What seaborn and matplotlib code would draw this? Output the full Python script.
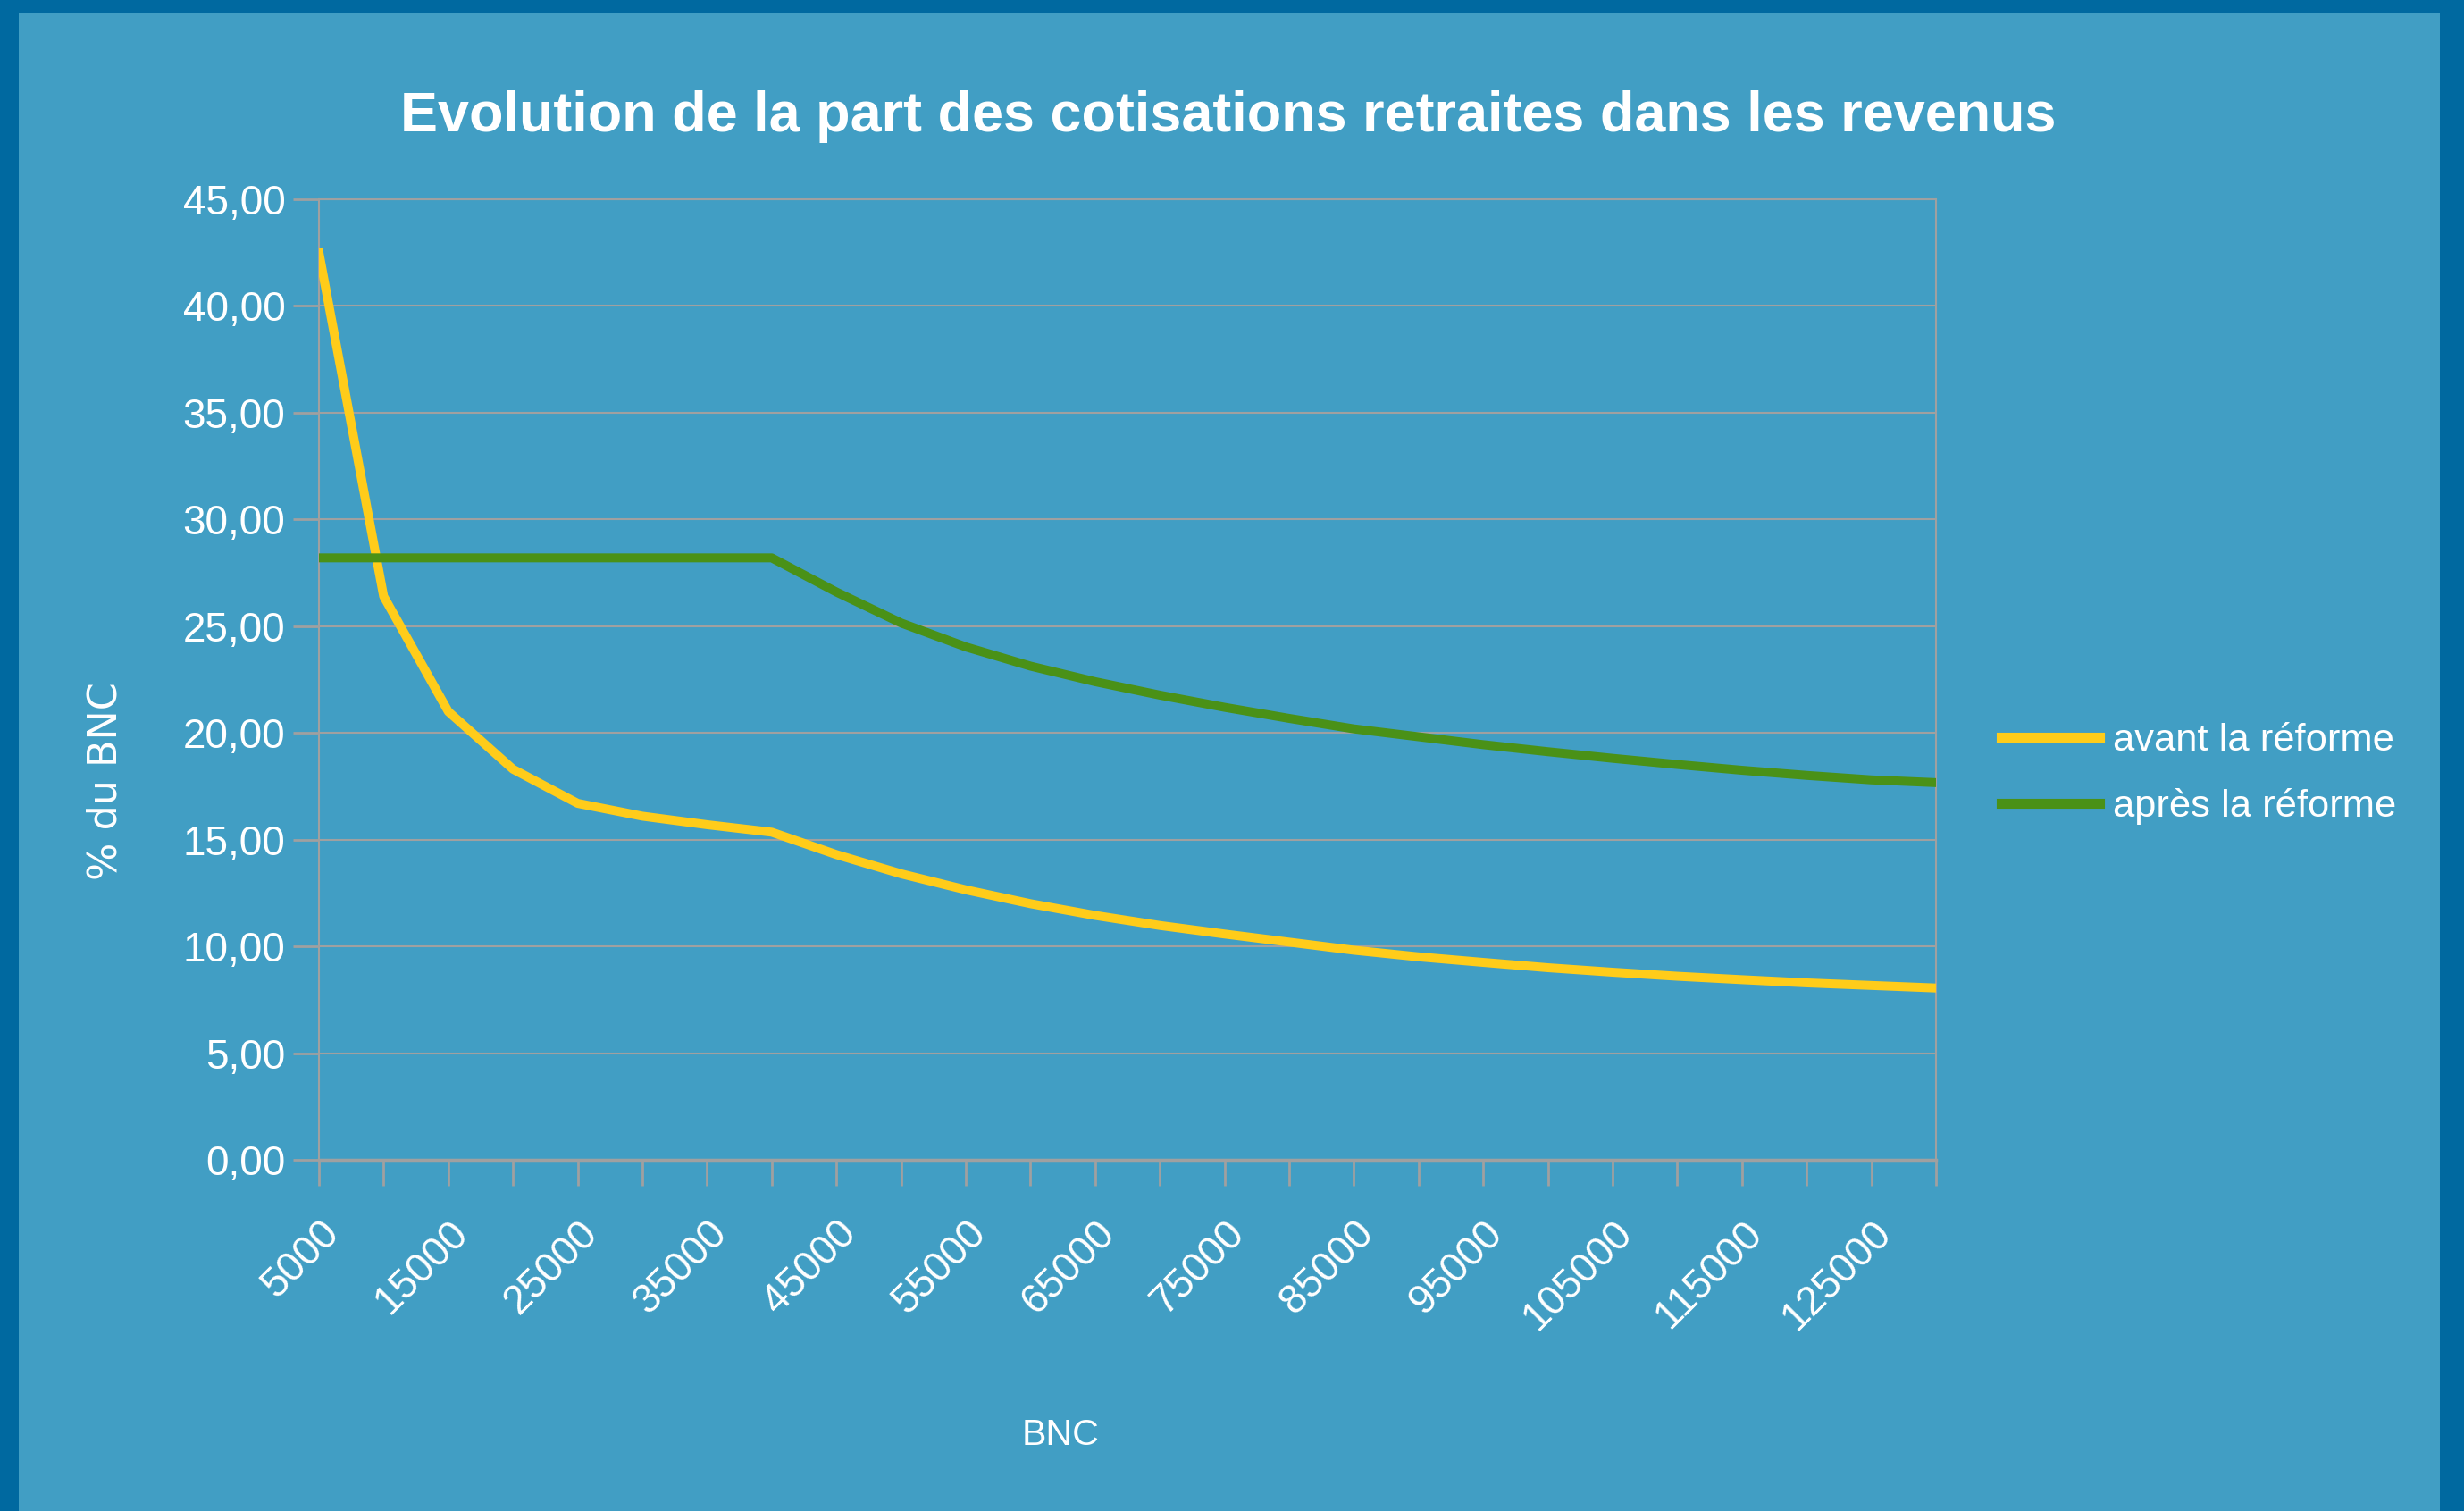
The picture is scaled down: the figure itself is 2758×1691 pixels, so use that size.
import matplotlib
matplotlib.use("Agg")
from matplotlib import pyplot as plt
from matplotlib import font_manager
from matplotlib.patches import Rectangle
import seaborn as sns
import pandas as pd

# data
bnc = [5000, 10000, 15000, 20000, 25000, 30000, 35000, 40000, 45000, 50000,
       55000, 60000, 65000, 70000, 75000, 80000, 85000, 90000, 95000, 100000,
       105000, 110000, 115000, 120000, 125000, 130000]
avant = [42.5, 26.4, 21.0, 18.3, 16.7, 16.1, 15.7, 15.35, 14.3, 13.4,
         12.65, 12.0, 11.45, 10.98, 10.58, 10.2, 9.82, 9.51, 9.25, 9.0,
         8.79, 8.6, 8.44, 8.29, 8.17, 8.05]
apres = [28.2, 28.2, 28.2, 28.2, 28.2, 28.2, 28.2, 28.2, 26.6, 25.15,
         24.03, 23.13, 22.4, 21.77, 21.2, 20.68, 20.19, 19.82, 19.45, 19.12,
         18.81, 18.52, 18.25, 18.01, 17.8, 17.67]
series = ["avant la réforme", "après la réforme"]
y_ticks = [0, 5, 10, 15, 20, 25, 30, 35, 40, 45]
y_labels = ["0,00", "5,00", "10,00", "15,00", "20,00", "25,00", "30,00", "35,00", "40,00", "45,00"]

names = {f.name for f in font_manager.fontManager.ttflist}
narrow = "Liberation Sans Narrow" if "Liberation Sans Narrow" in names else "Liberation Sans"
k = 1.0 if narrow == "Liberation Sans Narrow" else 0.87  # narrower sizes for the wide fallback

bg = "#419EC4"
border = "#0069A0"
grid = "#A0A0A0"
colors = {"avant la réforme": "#FFCC1A", "après la réforme": "#4A9117"}

df = pd.DataFrame({
    "BNC": bnc + bnc,
    "part": avant + apres,
    "serie": [series[0]] * len(bnc) + [series[1]] * len(bnc),
})

W, H = 2758, 1691
fig = plt.figure(figsize=(W / 100, H / 100), dpi=100)
fig.patch.set_facecolor(border)
fig.patches.append(Rectangle((21 / W, 0), (2731 - 21) / W, (H - 14) / H,
                             transform=fig.transFigure, facecolor=bg,
                             edgecolor="none", zorder=-1))

ax = fig.add_axes([357 / W, 1 - 1298 / H, (2167 - 357) / W, (1298 - 223) / H])
ax.set_facecolor(bg)

sns.lineplot(data=df, x="BNC", y="part", hue="serie", hue_order=series,
             palette=colors, linewidth=7.2, ax=ax, zorder=3)

ax.set_xlim(5000, 130000)
ax.set_ylim(0, 45)
ax.set_yticks(y_ticks)
ax.set_yticklabels(y_labels, fontsize=38 * k, color="white", family=narrow)
ax.set_xticks(bnc)
ax.set_xticklabels([str(v) if i % 2 == 0 else "" for i, v in enumerate(bnc)],
                   rotation=45, ha="right", va="top", rotation_mode="anchor",
                   fontsize=38 * k, color="white", family=narrow)
ax.tick_params(axis="x", length=21, width=2, color=grid, pad=22)
ax.tick_params(axis="y", length=21, width=2, color=grid, pad=6)
ax.grid(axis="y", color=grid, linewidth=1.5, zorder=1)
ax.set_axisbelow(True)
for side in ["left", "right", "top"]:
    ax.spines[side].set_color(grid)
    ax.spines[side].set_linewidth(1.5)
ax.spines["bottom"].set_color(grid)
ax.spines["bottom"].set_linewidth(2.5)
ax.set_xlabel("")
ax.set_ylabel("")

fig.text(0.4985, 1 - 130 / H, "Evolution de la part des cotisations retraites dans les revenus",
         ha="center", va="center", fontsize=52 * k, fontweight="bold", color="white", family=narrow)
fig.text(1187 / W, 1 - 1606 / H, "BNC", ha="center", va="center",
         fontsize=34 * k, color="white", family=narrow)
fig.text(118 / W, 1 - 874 / H, "% du BNC", ha="center", va="center", rotation=90,
         fontsize=32, color="white", family="DejaVu Sans")

leg = ax.legend(loc="center left", bbox_to_anchor=(2240 / W, 1 - 866 / H),
                bbox_transform=fig.transFigure, frameon=False, borderpad=0,
                borderaxespad=0, handlelength=2.2 / k, handletextpad=0.3 / k,
                labelspacing=0.75, prop={"family": narrow, "size": 36 * k})
for t in leg.get_texts():
    t.set_color("white")
for h in leg.legend_handles:
    h.set_linewidth(8)

fig.savefig("out.png", dpi=100, facecolor=fig.get_facecolor())
